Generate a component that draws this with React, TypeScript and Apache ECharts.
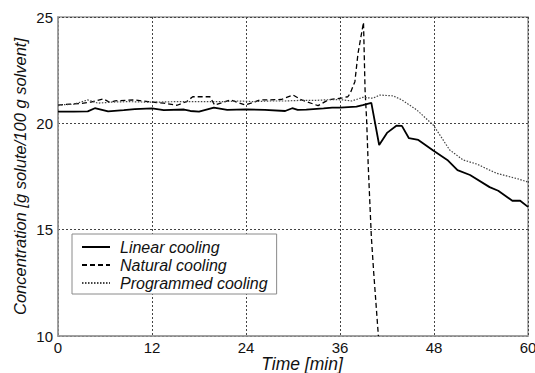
import React, { useEffect, useRef } from "react";
import * as echarts from "echarts";

const FONT = "'Liberation Sans', Arial, sans-serif";

const seriesNames = ["Linear cooling", "Natural cooling", "Programmed cooling"];

const linearT = [0, 2, 3.8, 4.7, 6.4, 8.4, 9.8, 12, 13.5, 16.1, 16.9, 18, 19.9, 21.6, 24, 26.4, 29, 29.9, 30.6, 31.7, 33.9, 35, 36, 38.1, 38.9, 40, 41, 42, 43.2, 43.9, 44.8, 46, 47.9, 49.7, 51, 52.6, 55.1, 56.2, 58, 59, 60];
const linearV = [20.55, 20.55, 20.56, 20.71, 20.56, 20.62, 20.67, 20.7, 20.62, 20.65, 20.58, 20.55, 20.74, 20.63, 20.66, 20.63, 20.58, 20.71, 20.63, 20.64, 20.7, 20.74, 20.74, 20.79, 20.86, 20.96, 18.98, 19.55, 19.89, 19.88, 19.3, 19.22, 18.72, 18.28, 17.8, 17.57, 17.0, 16.83, 16.36, 16.36, 16.07];

const naturalT = [0, 1.5, 3.0, 4.2, 5.8, 6.6, 7.3, 9.8, 11.5, 13.5, 15.2, 16.4, 17.2, 19.4, 20, 22, 23.9, 25.8, 26.4, 28.5, 30, 31.1, 33.2, 34.5, 36.3, 37, 37.3, 37.9, 38.3, 39.0, 39.2, 39.4, 39.6, 40.0, 40.3, 40.9];
const naturalV = [20.86, 20.9, 20.94, 21.0, 21.15, 20.99, 21.06, 21.1, 21.02, 20.95, 20.85, 21.02, 21.25, 21.25, 20.86, 21.1, 20.86, 21.1, 21.1, 21.12, 21.33, 21.1, 20.83, 21.1, 21.2, 21.25, 21.41, 21.96, 23.29, 24.75, 21.57, 20.16, 18.04, 14.67, 13.0, 10.0];

const programmedT = [0, 2, 3.8, 5.1, 7, 9, 11, 13, 15, 17, 19, 21, 23, 25, 27, 29, 31, 33, 35, 36.4, 37.5, 38.9, 40.2, 41.1, 42.8, 43.9, 45.8, 47.9, 50, 51.7, 53.5, 55.1, 56, 58.6, 60];
const programmedV = [20.86, 20.9, 21.1, 20.95, 21.0, 21.02, 21.0, 21.0, 21.02, 21.02, 21.02, 21.02, 21.05, 21.02, 21.05, 21.05, 21.08, 21.08, 21.12, 21.1, 21.05, 21.22, 21.18, 21.33, 21.29, 21.1, 20.63, 19.92, 18.75, 18.28, 18.08, 17.8, 17.65, 17.4, 17.24];

const xTicks = { min: 0, max: 60, interval: 12 };
const yTicks = { min: 10, max: 25, interval: 5 };

const zip = (t: number[], v: number[]) => t.map((x, i) => [x, v[i]]);

export default function App() {
  const ref = useRef<HTMLDivElement>(null);
  useEffect(() => {
    if (!ref.current) return;
    const chart = echarts.init(ref.current, undefined, { renderer: "svg" });
    chart.setOption({
      animation: false,
      backgroundColor: "#fff",
      grid: {
        left: 58, right: 7, top: 17, bottom: 37,
        outerBoundsMode: "none",
        containLabel: false,
        show: true, borderColor: "#9a9a9a", borderWidth: 1.5,
      },
      legend: {
        orient: "vertical",
        left: 72,
        top: 234,
        itemWidth: 28,
        itemHeight: 18,
        itemGap: 0,
        padding: [4, 9, 2, 9],
        borderColor: "#8a8a8a",
        borderWidth: 1,
        backgroundColor: "#fff",
        itemStyle: { opacity: 0 },
        textStyle: { fontSize: 16, lineHeight: 18, fontStyle: "italic", fontFamily: FONT, color: "#111", padding: [0, 0, 0, 5] },
        data: seriesNames,
      },
      xAxis: {
        type: "value",
        ...xTicks,
        name: "Time [min]",
        nameLocation: "middle",
        nameGap: 19,
        nameMoveOverlap: false,
        nameTextStyle: { fontSize: 17.5, fontStyle: "italic", fontFamily: FONT, color: "#111", padding: [0, 0, 0, 18] },
        axisLine: { show: true, lineStyle: { color: "#9a9a9a", width: 1.5 } },
        axisTick: { show: false },
        axisLabel: { fontSize: 15, fontFamily: FONT, color: "#111", margin: 4 },
        splitLine: { show: true, lineStyle: { color: "#444", width: 1, type: [2, 2] } },
      },
      yAxis: {
        type: "value",
        ...yTicks,
        name: "Concentration [g solute/100 g solvent]",
        nameLocation: "middle",
        nameGap: 30,
        nameMoveOverlap: false,
        nameTextStyle: { fontSize: 16.5, fontStyle: "italic", fontFamily: FONT, color: "#111" },
        axisLine: { show: true, lineStyle: { color: "#9a9a9a", width: 1.5 } },
        axisTick: { show: false },
        axisLabel: { fontSize: 15, fontFamily: FONT, color: "#111", margin: 5 },
        splitLine: { show: true, lineStyle: { color: "#444", width: 1, type: [2, 2] } },
      },
      series: [
        {
          name: seriesNames[0], type: "line", symbol: "none", clip: true,
          data: zip(linearT, linearV),
          lineStyle: { color: "#000", width: 1.8, type: "solid" },
          itemStyle: { color: "#000" },
        },
        {
          name: seriesNames[1], type: "line", symbol: "none", clip: true,
          data: zip(naturalT, naturalV),
          lineStyle: { color: "#000", width: 1.3, type: [5, 3] },
          itemStyle: { color: "#000" },
        },
        {
          name: seriesNames[2], type: "line", symbol: "none", clip: true,
          data: zip(programmedT, programmedV),
          lineStyle: { color: "#444", width: 1.2, type: [1.5, 1.5] },
          itemStyle: { color: "#444" },
        },
      ],
    });
    return () => chart.dispose();
  }, []);
  return <div ref={ref} style={{ width: 535, height: 373, position: "absolute", left: 0, top: 0 }} />;
}
